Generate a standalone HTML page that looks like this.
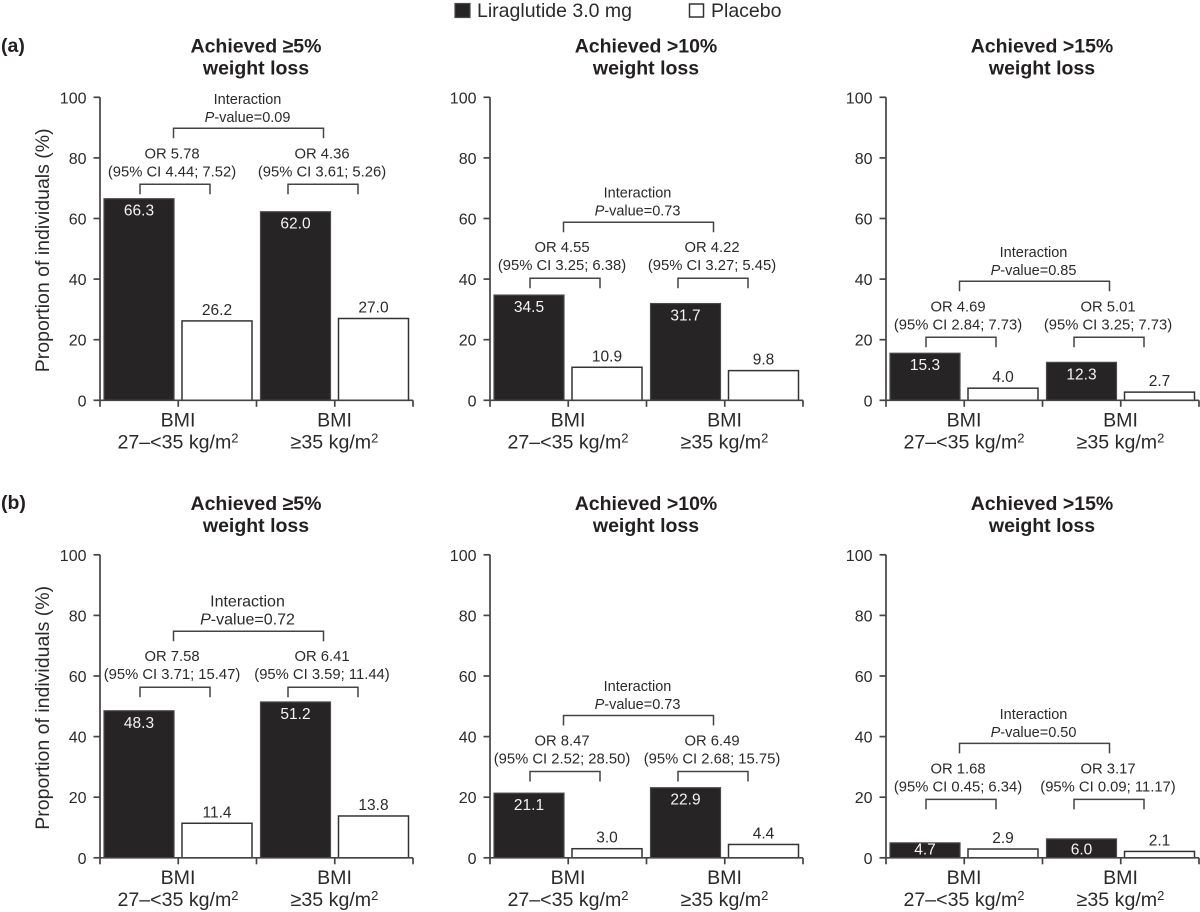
<!DOCTYPE html>
<html lang="en">
<head>
<meta charset="utf-8">
<title>Weight loss responders by BMI</title>
<style>
html,body{margin:0;padding:0;background:#fff;width:1200px;height:912px;overflow:hidden}
svg{display:block;font-family:"Liberation Sans",Arial,sans-serif;fill:#231f20}
.dark{fill:#262425;stroke:#4a4a4a;stroke-width:1.2}
.light{fill:#fff;stroke:#333;stroke-width:1.5}
.ax{stroke:#444;stroke-width:1.7;fill:none}
.br{stroke:#444;stroke-width:1.5;fill:none}
.tick{font-size:16px;fill:#2a2a2a}
.ann{font-size:14.5px;fill:#2a2a2a}
.ci{font-size:14.8px;fill:#2a2a2a}
.annb{font-size:16px;fill:#2a2a2a}
.val{font-size:15.5px;fill:#2a2a2a}
.valw{font-size:15.5px;fill:#f4f4f4}
.cat{font-size:19.6px;fill:#2a2a2a}
.ttl{font-size:19.5px;font-weight:bold;fill:#231f20}
.yt{font-size:19.5px;fill:#2a2a2a}
.leg{font-size:19.5px;fill:#2a2a2a}
</style>
</head>
<body>
<svg id="chart" xmlns="http://www.w3.org/2000/svg" width="1200" height="912" viewBox="0 0 1200 912">
  <g>
    <rect class="dark" x="455" y="3.5" width="15" height="14"/>
    <text class="leg" x="477" y="17">Liraglutide 3.0 mg</text>
    <rect class="light" x="689.5" y="4" width="14" height="13"/>
    <text class="leg" x="711" y="17">Placebo</text>
  </g>
  <text class="ttl" x="1" y="52">(a)</text>
  <text class="ttl" x="1" y="509">(b)</text>
</svg>
<script>
// Data, in panel order: row (a) left to right, then row (b) left to right.
var titles = ['Achieved \u22655%', 'Achieved >10%', 'Achieved >15%', 'Achieved \u22655%', 'Achieved >10%', 'Achieved >15%'];
var categories = ['27\u2013<35 kg/m', '\u226535 kg/m'];
var yTicks = [0, 20, 40, 60, 80, 100];
var liraglutide = [[66.3, 62.0], [34.5, 31.7], [15.3, 12.3], [48.3, 51.2], [21.1, 22.9], [4.7, 6.0]];
var placebo = [[26.2, 27.0], [10.9, 9.8], [4.0, 2.7], [11.4, 13.8], [3.0, 4.4], [2.9, 2.1]];
var oddsRatios = [['5.78', '4.36'], ['4.55', '4.22'], ['4.69', '5.01'], ['7.58', '6.41'], ['8.47', '6.49'], ['1.68', '3.17']];
var confidence = [['4.44; 7.52', '3.61; 5.26'], ['3.25; 6.38', '3.27; 5.45'], ['2.84; 7.73', '3.25; 7.73'], ['3.71; 15.47', '3.59; 11.44'], ['2.52; 28.50', '2.68; 15.75'], ['0.45; 6.34', '0.09; 11.17']];
var interactionP = ['0.09', '0.73', '0.85', '0.72', '0.73', '0.50'];
// Height of each panel's odds-ratio bracket, in axis units (%).
var bracketLevels = [71.3, 40.3, 20.8, 56.3, 28.5, 19.3];

var svg = document.getElementById('chart');
var NS = 'http://www.w3.org/2000/svg';
var yScale = 3.03;
var groupWidth = 156.5;

function panelLeft(p) { return [100, 490, 886][p % 3]; }
function panelBase(p) { return p < 3 ? 400.3 : 857.8; }
function yPos(p, v) { return panelBase(p) - v * yScale; }
function barX(p, g, s) { return panelLeft(p) + 4 + g * groupWidth + s * 78; }

function make(parent, tag, attrs, txt) {
  var el = document.createElementNS(NS, tag);
  for (var k in attrs) el.setAttribute(k, attrs[k]);
  if (txt !== undefined) el.textContent = txt;
  parent.appendChild(el);
  return el;
}
function bracketPath(x1, x2, top) {
  return 'M' + x1 + ' ' + (top + 10) + 'V' + top + 'H' + x2 + 'V' + (top + 10);
}

titles.forEach(function (title, p) {
  var L = panelLeft(p), B = panelBase(p);
  var panel = make(svg, 'g', {});
  
  

  // Title
  var t = make(panel, 'text', { 'class': 'ttl', x: L + 156, y: B - 348, 'text-anchor': 'middle' }, title);
  
  
  var t2 = make(panel, 'text', { 'class': 'ttl', x: L + 156, y: B - 326, 'text-anchor': 'middle' }, 'weight loss');
  
  

  // Y axis title (left column only)
  if (p % 3 === 0) {
    var cy = B - 150;
    var yt = make(panel, 'text', { 'class': 'yt', x: 49, y: cy, 'text-anchor': 'middle', transform: 'rotate(-90 49 ' + cy + ')' }, 'Proportion of individuals (%)');
    
    
  }

  // Bars
  [liraglutide[p], placebo[p]].forEach(function (series, s) {
    series.forEach(function (v, g) {
      var top = yPos(p, v) - (s === 0 ? 0.7 : 0), x = barX(p, g, s);
      var bar = make(panel, 'rect', { 'class': s === 0 ? 'dark' : 'light', x: x, y: top, width: 70, height: B - top });
      
      
      var ly = s === 0 ? Math.min(top + 17, B - 3.5) : top - 6;
      var val = make(panel, 'text', { 'class': s === 0 ? 'valw' : 'val', x: x + 35, y: ly, 'text-anchor': 'middle' }, v.toFixed(1));
      
      
    });
  });

  // Y axis and ticks
  var yAxis = make(panel, 'path', { 'class': 'ax', d: 'M' + L + ' ' + yPos(p, 100) + 'V' + B });
  
  
  yTicks.forEach(function (v) {
    var yy = yPos(p, v);
    var tk = make(panel, 'path', { 'class': 'ax', d: 'M' + (L - 6.5) + ' ' + yy + 'H' + L });
    
    
    var tl = make(panel, 'text', { 'class': 'tick', x: L - 13.5, y: yy + 6, 'text-anchor': 'end' }, v);
    
    
  });

  // X axis, ticks and category labels
  var xAxis = make(panel, 'path', { 'class': 'ax', d: 'M' + L + ' ' + B + 'H' + (L + 2 * groupWidth) });
  
  
  for (var i = 0; i <= 4; i++) {
    var xt = make(panel, 'path', { 'class': 'ax', d: 'M' + (L + i * groupWidth / 2) + ' ' + B + 'v6.5' });
    
    
  }
  categories.forEach(function (cat, g) {
    var cx = L + 78 + g * groupWidth;
    var c1 = make(panel, 'text', { 'class': 'cat', x: cx, y: B + 26, 'text-anchor': 'middle' }, 'BMI');
    
    
    var c2 = make(panel, 'text', { 'class': 'cat', x: cx, y: B + 48, 'text-anchor': 'middle' }, cat);
    
    
    make(c2, 'tspan', { dy: -6, 'font-size': '13' }, '2');
  });

  // Odds-ratio brackets and annotations
  var orTop = yPos(p, bracketLevels[p]);
  var intTop = orTop - 56;
  oddsRatios[p].forEach(function (or, g) {
    var x1 = L + 40 + g * 148;
    var br = make(panel, 'path', { 'class': 'br', d: bracketPath(x1, x1 + 70, orTop) });
    
    
    var a1 = make(panel, 'text', { 'class': 'ci', x: L + 72 + g * 150, y: orTop - 26, 'text-anchor': 'middle' }, 'OR ' + or);
    
    
    var a2 = make(panel, 'text', { 'class': 'ci', x: L + 72 + g * 150, y: orTop - 8, 'text-anchor': 'middle' }, '(95% CI ' + confidence[p][g] + ')');
    
    
  });

  // Interaction bracket and annotation (larger type in the first panel of row b)
  var annClass = p === 3 ? 'annb' : 'ann';
  var ib = make(panel, 'path', { 'class': 'br', d: bracketPath(L + 73.5, L + 223.5, intTop) });
  
  
  var i1 = make(panel, 'text', { 'class': annClass, x: L + 147.5, y: intTop - 24.5, 'text-anchor': 'middle' }, 'Interaction');
  
  
  var i2 = make(panel, 'text', { 'class': annClass, x: L + 147.5, y: intTop - 6.5, 'text-anchor': 'middle' });
  
  
  make(i2, 'tspan', { 'font-style': 'italic' }, 'P');
  make(i2, 'tspan', {}, '-value=' + interactionP[p]);
});
</script>
</body>
</html>
